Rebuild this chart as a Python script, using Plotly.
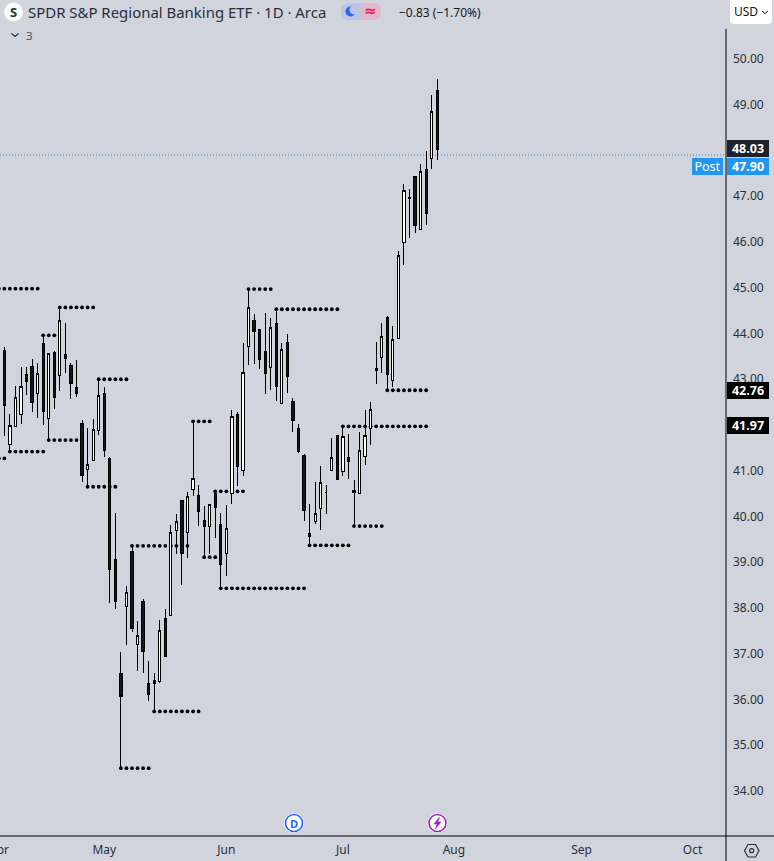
import plotly.graph_objects as go

W, H = 774, 861
PL, PR, PT, PB = 0, 726, 30, 836
INK = "#131722"
BG = "#D1D4DC"
FONT = "Noto Sans"

# ---- data -------------------------------------------------------------
opens = [43.99,43.62,41.57,41.96,42.22,43.11,43.28,42.68,43.79,42.14,43.59,43.08,43.55,43.30,42.82,42.04,
         41.02,41.22,41.88,42.69,41.26,39.06,36.57,38.03,39.24,37.20,38.15,36.35,36.42,36.39,37.77,37.83,
         39.70,40.34,39.65,40.59,40.46,39.92,39.78,40.51,39.83,39.19,40.51,42.23,41.01,43.71,44.29,44.09,
         43.61,43.25,44.22,42.48,43.81,42.52,41.93,41.34,39.63,39.89,40.17,40.53,41.00,41.77,40.98,41.29,
         40.53,40.50,41.31,41.92,43.24,43.47,44.36,42.97,43.90,45.98,46.98,47.44,46.27,47.59,47.82,49.32]
highs = [43.99,43.70,42.23,42.85,43.26,43.26,43.44,43.35,43.96,43.57,43.62,44.57,44.24,43.35,43.42,42.12,
         41.93,42.13,43.00,42.83,41.30,40.08,37.04,38.48,39.38,37.72,38.19,36.84,36.57,37.74,37.98,39.81,
         40.05,40.35,40.54,42.08,40.69,40.23,40.27,40.56,40.07,40.25,42.32,42.28,43.79,44.97,44.43,44.10,
         44.45,44.34,44.53,43.79,43.98,42.58,42.02,41.36,40.27,40.75,41.10,40.68,41.72,41.77,41.97,41.80,
         40.79,41.84,42.32,42.50,43.81,44.23,44.38,44.16,45.80,47.27,47.15,47.44,47.70,47.98,49.21,49.56]
lows = [43.38,41.77,41.41,41.96,42.02,42.66,42.28,42.15,42.00,41.67,42.36,42.75,43.14,42.57,42.62,40.76,
        40.65,41.22,41.78,41.31,38.12,37.98,34.50,37.19,37.48,36.63,36.59,35.97,35.74,36.37,36.94,37.83,
        39.19,38.51,39.10,40.45,39.80,39.11,39.18,39.53,38.43,38.71,40.28,40.67,40.89,43.31,43.33,43.22,
        42.68,42.77,42.53,42.47,42.71,41.85,41.39,39.91,39.36,39.84,39.71,40.06,41.00,40.80,40.89,40.82,
        39.79,40.50,41.13,41.56,42.90,43.14,42.76,42.83,43.89,45.50,46.09,46.20,46.27,46.37,47.60,47.80]
closes = [43.38,42.42,41.99,42.61,42.85,42.95,42.49,43.13,42.29,43.57,42.60,44.29,43.45,42.90,42.68,40.89,
          41.14,41.91,42.65,41.44,38.84,38.14,36.06,38.34,37.55,37.40,37.04,36.10,36.35,37.51,36.94,39.65,
          39.89,39.19,40.44,40.83,40.10,39.78,40.27,40.19,38.95,39.74,42.19,41.09,43.15,44.57,44.04,43.43,
          43.12,44.14,42.84,43.65,43.06,42.09,41.43,40.13,39.56,40.07,40.75,40.53,41.29,40.80,41.75,41.20,
          40.57,41.45,41.77,42.34,43.19,43.94,43.10,43.87,45.71,47.13,46.95,46.36,47.55,46.62,48.86,48.03]

level_prices = [44.98,41.42,41.27,43.96,44.57,41.67,43.00,40.65,42.08,39.36,40.55,39.11,38.43,35.74,34.50,
                44.97,44.53,39.37,39.79,41.97,42.76]
level_starts = [0,2,0,8,11,9,18,16,35,24,39,37,40,28,22,45,50,56,64,62,70]
level_ends = [7,8,1,10,17,14,23,21,38,34,44,39,55,36,27,49,61,63,69,77,77]

price_ticks = [50,49,48,47,46,45,44,43,42,41,40,39,38,37,36,35,34]
month_idx = [19,41,62,82,105,125]
month_labels = ["May","Jun","Jul","Aug","Sep","Oct"]

last_close = 48.03
post_price = 47.90

# ---- scales -----------------------------------------------------------
X_STEP = 5.55
X_ORIGIN = -1.2
x_range = [(PL - X_ORIGIN) / X_STEP, (PR - X_ORIGIN) / X_STEP]
Y_UNIT = 45.75
y_range = [50 - (PB - 59) / Y_UNIT, 50 - (PT - 59) / Y_UNIT]

PW, PH = PR - PL, PB - PT
def px(x): return (x - PL) / PW
def py(y): return (PB - y) / PH

dot_x, dot_y = [], []
for p, a, b in zip(level_prices, level_starts, level_ends):
    for i in range(a, b + 1):
        dot_x.append(i)
        dot_y.append(p)

fig = go.Figure()
fig.add_trace(go.Scatter(x=dot_x, y=dot_y, mode="markers", xaxis="x", yaxis="y", showlegend=False,
                         marker=dict(symbol="circle", size=3.8, color="#000000", line=dict(width=0)),
                         hoverinfo="skip"))
fig.add_trace(go.Candlestick(x=list(range(len(opens))), open=opens, high=highs, low=lows, close=closes,
                             xaxis="x", yaxis="y2", showlegend=False, hoverinfo="skip",
                             increasing=dict(fillcolor="#FFFFFF", line=dict(color="#000000", width=1)),
                             decreasing=dict(fillcolor=INK, line=dict(color="#000000", width=1))))

shapes = []
def line(x0, y0, x1, y1, color="#000000", width=1, dash="solid"):
    shapes.append(dict(type="line", xref="paper", yref="paper", x0=px(x0), y0=py(y0), x1=px(x1), y1=py(y1),
                       line=dict(color=color, width=width, dash=dash), layer="above"))
def circle(cx, cy, r, fill, color=None, width=0):
    shapes.append(dict(type="circle", xref="paper", yref="paper", x0=px(cx - r), x1=px(cx + r),
                       y0=py(cy + r), y1=py(cy - r), fillcolor=fill,
                       line=dict(color=color or fill, width=width), layer="above"))
def poly(points, fill=None, color=None, width=1, closed=True):
    d = "M " + " L ".join(f"{px(a):.5f},{py(b):.5f}" for a, b in points) + (" Z" if closed else "")
    shapes.append(dict(type="path", xref="paper", yref="paper", path=d, fillcolor=fill or "rgba(0,0,0,0)",
                       line=dict(color=color or "rgba(0,0,0,0)", width=width), layer="above"))
def rrect(x0, y0, x1, y1, r, fill):
    d = (f"M {px(x0+r):.5f},{py(y0):.5f} L {px(x1-r):.5f},{py(y0):.5f} Q {px(x1):.5f},{py(y0):.5f} {px(x1):.5f},{py(y0+r):.5f} "
         f"L {px(x1):.5f},{py(y1-r):.5f} Q {px(x1):.5f},{py(y1):.5f} {px(x1-r):.5f},{py(y1):.5f} "
         f"L {px(x0+r):.5f},{py(y1):.5f} Q {px(x0):.5f},{py(y1):.5f} {px(x0):.5f},{py(y1-r):.5f} "
         f"L {px(x0):.5f},{py(y0+r):.5f} Q {px(x0):.5f},{py(y0):.5f} {px(x0+r):.5f},{py(y0):.5f} Z")
    shapes.append(dict(type="path", xref="paper", yref="paper", path=d, fillcolor=fill,
                       line=dict(width=0), layer="above"))

annotations = []
def text(x, y, s, size=12, color=INK, anchor="left", family=FONT, bold=False):
    annotations.append(dict(xref="paper", yref="paper", x=px(x), y=py(y), text=f"<b>{s}</b>" if bold else s,
                            showarrow=False, xanchor=anchor, yanchor="middle",
                            font=dict(size=size, color=color, family=family), borderpad=0))

# axis frame
line(PR, 29, PR, H, "#000000", 1)
line(0, PB, W, PB, "#000000", 1)
# last post-market price line
shapes.append(dict(type="line", xref="paper", yref="y", x0=0, x1=1, y0=post_price, y1=post_price,
                   line=dict(color="#2196F3", width=1, dash="1px,2px"), layer="below"))

# header
circle(13.5, 12, 9.5, "#F8F9FB")
text(13.5, 12, "S", 13, "#1E3A2F", "center", bold=True)
text(27, 12, "SPDR S&amp;P Regional Banking ETF · 1D · Arca", 14.95, "#2A2E39")
rrect(341, 3, 381, 20, 8, "#BCC6E2")
rrect(361, 3, 381, 20, 8, "#E2B9CA")
shapes.append(dict(type="rect", xref="paper", yref="paper", x0=px(361), x1=px(368), y0=py(3), y1=py(20),
                   fillcolor="#E2B9CA", line=dict(width=0), layer="above"))
circle(350.5, 11.5, 5, "#2962FF")
circle(353.8, 10, 4.4, "#BCC6E2")
text(370, 11, "≈", 15, "#E91E63", "center", family="DejaVu Sans", bold=True)
text(398, 12.5, "−0.83 (−1.70%)", 12, INK)
poly([(11.5, 33.5), (15, 36.5), (18.5, 33.5)], None, "#2A2E39", 1.2, closed=False)
text(25, 35, "3", 11.5, "#50535E")

# USD button
rrect(730, -4, 772, 24, 4, "#FFFFFF")
text(733, 12, "USD", 12, "#131722")
poly([(762, 11), (765, 13.5), (768, 11)], None, "#131722", 1, closed=False)

# Apr label is cut by the page edge
text(X_ORIGIN, 849.5, "Apr", 12, "#2A2E39", "center")

# price badges
def badge(price, label, fill, shift=0, x=PR + 0.5, w=42, size=12.5):
    annotations.append(dict(xref="paper", yref="y", x=px(x), y=price, text=label, showarrow=False,
                            xanchor="left", yanchor="middle", yshift=shift, width=w, height=17,
                            bgcolor=fill, borderpad=0, borderwidth=0, align="center",
                            font=dict(size=size, color="#FFFFFF", family=FONT)))
badge(last_close, "<b>48.03</b>", "#1E222D", 0.5)
badge(post_price, "<b>47.90</b>", "#2196F3", -11.3)
badge(post_price, "Post", "#2196F3", -11.3, x=692, w=31)
badge(42.76, "<b>42.76</b>", "#000000", -0.5)
badge(41.97, "<b>41.97</b>", "#000000", 0.5)

# event markers
circle(294, 823, 10, "#FFFFFF")
circle(294, 823, 8.5, "#FFFFFF", "#2962FF", 1.6)
text(294, 823, "D", 11, "#2962FF", "center", bold=True)
circle(437.5, 823, 10, "#FFFFFF")
circle(437.5, 823, 8.5, "#FFFFFF", "#9C27B0", 1.6)
poly([(439.5, 817), (434, 824), (437, 824), (435.5, 829), (441, 822), (438, 822)], "#9C27B0", "#9C27B0", 0.5)

# settings gear
poly([(744.5, 850.7), (748, 844.5), (755.5, 844.5), (759, 850.7), (755.5, 857), (748, 857)], None, "#2A2E39", 1.2)
circle(751.7, 850.7, 2, "rgba(0,0,0,0)", "#2A2E39", 1.2)

fig.update_layout(
    width=W, height=H, autosize=False,
    margin=dict(l=PL, r=W - PR, t=PT, b=H - PB, pad=0),
    paper_bgcolor=BG, plot_bgcolor=BG,
    showlegend=False, hovermode=False, dragmode=False,
    boxgap=0.42,
    font=dict(family=FONT, color=INK, size=12),
    xaxis=dict(range=x_range, fixedrange=True, showgrid=False, zeroline=False, showline=False,
               rangeslider=dict(visible=False), tickmode="array", tickvals=month_idx, ticktext=month_labels,
               ticks="", tickfont=dict(size=12, color="#2A2E39", family=FONT), ticklabelstandoff=5),
    yaxis=dict(range=y_range, fixedrange=True, showgrid=False, zeroline=False, showline=False, side="right",
               tickmode="array", tickvals=price_ticks, ticktext=[f"{v:.2f}" for v in price_ticks],
               ticks="", tickfont=dict(size=12, color="#2A2E39", family=FONT), ticklabelstandoff=6),
    yaxis2=dict(range=y_range, overlaying="y", side="right", visible=False, fixedrange=True),
    shapes=shapes, annotations=annotations,
)

fig.write_html("out.html", config=dict(displayModeBar=False, staticPlot=True),
               post_script="document.body.style.margin='0';document.documentElement.style.overflow='hidden';document.body.style.overflow='hidden';document.body.style.background='#D1D4DC';"
                           "document.querySelectorAll('.boxlayer path').forEach(function(p){p.style.shapeRendering='crispEdges';});")
